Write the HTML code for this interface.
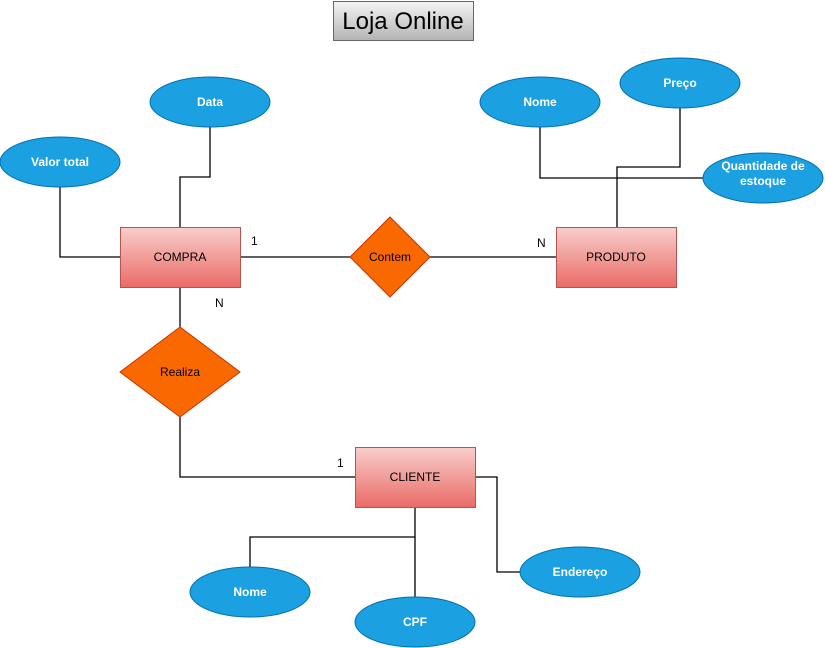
<!DOCTYPE html>
<html><head><meta charset="utf-8"><style>
html,body{margin:0;padding:0;background:#fff;}
svg{display:block;}
text{font-family:"Liberation Sans",Arial,sans-serif;}
.a{fill:#fff;font-size:12px;font-weight:bold;text-anchor:middle;}
.e{font-size:12px;fill:#000;text-anchor:middle;}
.l{font-size:12px;fill:#000;}
</style></head><body>
<svg width="825" height="648" viewBox="0 0 825 648" xmlns="http://www.w3.org/2000/svg">
<defs>
<linearGradient id="r" x1="0" y1="0" x2="0" y2="1"><stop offset="0" stop-color="#f8cecc"/><stop offset="1" stop-color="#ea6b66"/></linearGradient>
<linearGradient id="g" x1="0" y1="0" x2="0" y2="1"><stop offset="0" stop-color="#f5f5f5"/><stop offset="1" stop-color="#b3b3b3"/></linearGradient>
</defs>
<g fill="none" stroke="#000" stroke-width="1.3">
<polyline points="210,127 210,177 180,177 180,227"/>
<polyline points="60,187 60,257 120,257"/>
<line x1="240" y1="257" x2="350" y2="257"/>
<line x1="430" y1="257" x2="556" y2="257"/>
<line x1="180" y1="287" x2="180" y2="327"/>
<polyline points="180,417 180,477 355,477"/>
<polyline points="540,127 540,178 703,178"/>
<polyline points="680,108 680,167 617,167 617,227"/>
<polyline points="415,507 415,537 250,537 250,567"/>
<line x1="415" y1="537" x2="415" y2="597"/>
<polyline points="475,477 497,477 497,572 520,572"/>
</g>
<rect x="333.5" y="1.5" width="140" height="39" fill="url(#g)" stroke="#666"/>
<text x="403" y="29" font-size="24" text-anchor="middle">Loja Online</text>
<g stroke="#006eaf" fill="#1ba1e2">
<ellipse cx="210" cy="102" rx="60" ry="25"/>
<ellipse cx="60" cy="162" rx="60" ry="25"/>
<ellipse cx="540" cy="102" rx="60" ry="25"/>
<ellipse cx="680" cy="83" rx="60" ry="25"/>
<ellipse cx="763" cy="178" rx="60" ry="25"/>
<ellipse cx="250" cy="592" rx="60" ry="25"/>
<ellipse cx="415" cy="622" rx="60" ry="25"/>
<ellipse cx="580" cy="572" rx="60" ry="25"/>
</g>
<text class="a" x="210" y="106">Data</text>
<text class="a" x="60" y="166">Valor total</text>
<text class="a" x="540" y="106">Nome</text>
<text class="a" x="680" y="87">Preço</text>
<text class="a" x="763" y="170">Quantidade de</text>
<text class="a" x="763" y="185">estoque</text>
<text class="a" x="250" y="596">Nome</text>
<text class="a" x="415" y="626">CPF</text>
<text class="a" x="580" y="576">Endereço</text>
<g fill="url(#r)" stroke="#b85450">
<rect x="120.5" y="227.5" width="120" height="60"/>
<rect x="556.5" y="227.5" width="120" height="60"/>
<rect x="355.5" y="447.5" width="120" height="60"/>
</g>
<text class="e" x="180" y="261">COMPRA</text>
<text class="e" x="616" y="261">PRODUTO</text>
<text class="e" x="415" y="481">CLIENTE</text>
<g fill="#fa6800" stroke="#c73500">
<polygon points="390,217 430,257 390,297 350,257"/>
<polygon points="180,327 240,372 180,417 120,372"/>
</g>
<text class="e" x="390" y="261">Contem</text>
<text class="e" x="180" y="376">Realiza</text>
<text class="l" x="251" y="245">1</text>
<text class="l" x="215" y="307">N</text>
<text class="l" x="537" y="247">N</text>
<text class="l" x="337" y="467">1</text>
</svg>
</body></html>
